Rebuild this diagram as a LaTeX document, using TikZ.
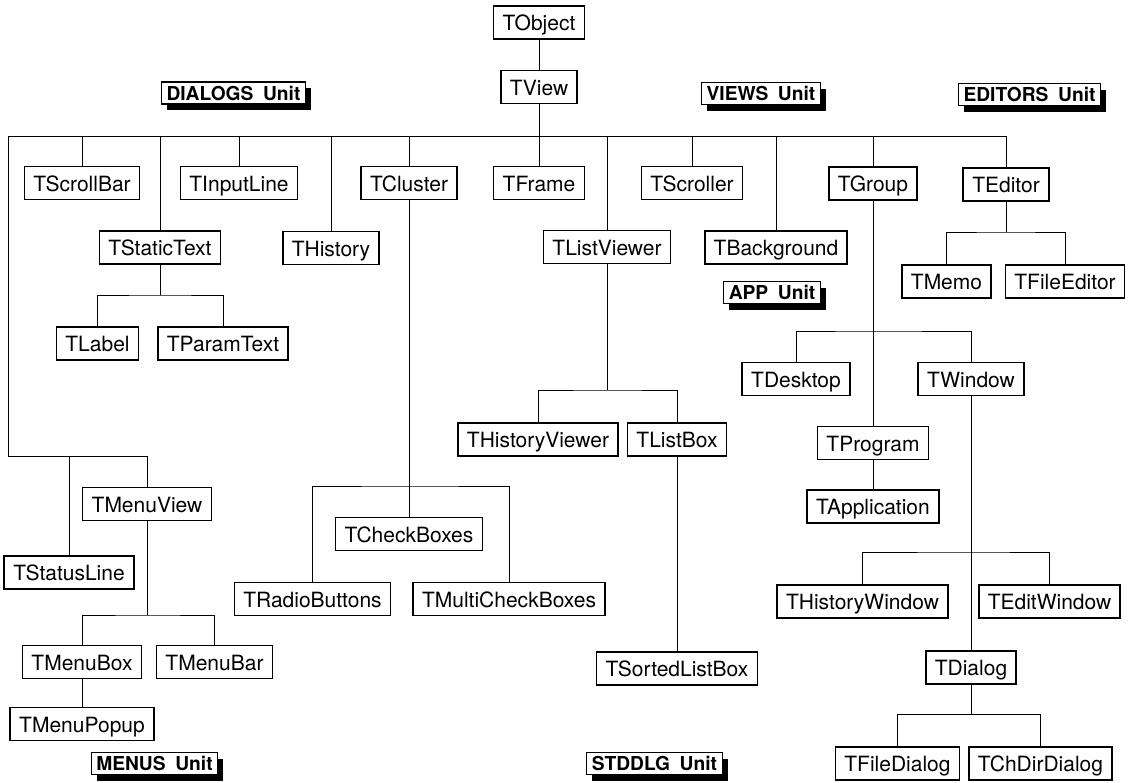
\documentclass[tikz,border=0pt]{standalone}
\usepackage{fontspec}
\setmainfont{TeX Gyre Heros}
\usetikzlibrary{shadows}

\begin{document}
\begin{tikzpicture}[x=0.5pt, y=-0.5pt,
  cls/.style={draw=black, line width=0.8pt, fill=white, inner xsep=4.5pt, inner ysep=0pt, minimum height=16.5pt, text height=9.1pt, text depth=0.9pt, font=\fontsize{10.5}{12}\selectfont},
  unit/.style={draw=black, line width=0.6pt, fill=white, inner xsep=2.5pt, inner ysep=0pt, minimum height=11pt, text height=7pt, text depth=0pt, font=\fontsize{9.6}{10}\selectfont\bfseries, drop shadow={shadow xshift=2.75pt, shadow yshift=-3pt, opacity=1, fill=black}},
  every path/.style={line width=0.45pt}]
\useasboundingbox (0,0) rectangle (1137,783);

% classes
\node[cls] (TObject) at (539,22.5) {TObject};
\node[cls] (TView) at (539,87) {TView};
\node[cls] (TScrollBar) at (82,183) {TScrollBar};
\node[cls] (TInputLine) at (239,183) {TInputLine};
\node[cls] (TCluster) at (409,183) {TCluster};
\node[cls] (TFrame) at (539,183) {TFrame};
\node[cls] (TScroller) at (692,183) {TScroller};
\node[cls] (TGroup) at (873,183.5) {TGroup};
\node[cls] (TEditor) at (1006,184.5) {TEditor};
\node[cls] (TStaticText) at (160,247.5) {TStaticText};
\node[cls] (THistory) at (331,248) {THistory};
\node[cls] (TListViewer) at (607,247) {TListViewer};
\node[cls] (TBackground) at (776,247.5) {TBackground};
\node[cls] (TLabel) at (97.5,343.5) {TLabel};
\node[cls] (TParamText) at (223,343.5) {TParamText};
\node[cls] (TMemo) at (946.5,281.5) {TMemo};
\node[cls] (TFileEditor) at (1065,281.5) {TFileEditor};
\node[cls] (TDesktop) at (796,379) {TDesktop};
\node[cls] (TWindow) at (971,379) {TWindow};
\node[cls] (THistoryViewer) at (538,439.5) {THistoryViewer};
\node[cls] (TListBox) at (677,439.5) {TListBox};
\node[cls] (TProgram) at (873,443) {TProgram};
\node[cls] (TApplication) at (873,506.5) {TApplication};
\node[cls] (TMenuView) at (147,504) {TMenuView};
\node[cls] (TCheckBoxes) at (409,534) {TCheckBoxes};
\node[cls] (TStatusLine) at (69,572.5) {TStatusLine};
\node[cls] (TRadioButtons) at (312.5,599) {TRadioButtons};
\node[cls] (TMultiCheckBoxes) at (509,599) {TMultiCheckBoxes};
\node[cls] (THistoryWindow) at (862.5,601.5) {THistoryWindow};
\node[cls] (TEditWindow) at (1049.5,601.5) {TEditWindow};
\node[cls] (TMenuBox) at (82,662) {TMenuBox};
\node[cls] (TMenuBar) at (214.5,662) {TMenuBar};
\node[cls] (TSortedListBox) at (677,668.5) {TSortedListBox};
\node[cls] (TDialog) at (971,667.5) {TDialog};
\node[cls] (TMenuPopup) at (82,724) {TMenuPopup};
\node[cls] (TFileDialog) at (897.5,763.5) {TFileDialog};
\node[cls] (TChDirDialog) at (1040.5,763.5) {TChDirDialog};

% unit labels
\node[unit] (dialogs) at (233.5,93) {DIALOGS\enspace Unit};
\node[unit] (views) at (761,93.5) {VIEWS\enspace Unit};
\node[unit] (editors) at (1029.5,94.5) {EDITORS\enspace Unit};
\node[unit] (app) at (772,292.5) {APP\enspace Unit};
\node[unit] (stddlg) at (654.5,763.5) {STDDLG\enspace Unit};
\node[unit] (menus) at (154.5,763.5) {MENUS\enspace Unit};

% main bus under TView
\coordinate (busL) at (8,136);
\coordinate (busR) at (TEditor |- busL);
\draw (TObject) -- (TView);
\draw (TView) -- (TView |- busL);
\draw (busL) -- (busR);
\foreach \c in {TScrollBar,TStaticText,TInputLine,THistory,TCluster,TFrame,TListViewer,TScroller,TBackground,TGroup,TEditor}
  \draw (\c) -- (\c |- busL);

% menus branch
\coordinate (menuL) at (8,456);
\draw (busL) -- (menuL) -| (TMenuView);
\draw (TStatusLine) -- (TStatusLine |- menuL);
\coordinate (mvJ) at (TMenuView |- 0,615);
\draw (TMenuView) -- (mvJ);
\draw (TMenuBox) |- (mvJ) -| (TMenuBar);
\draw (TMenuBox) -- (TMenuPopup);

% sub trees
\coordinate (stJ) at (TStaticText |- 0,295);
\draw (TStaticText) -- (stJ);
\draw (TLabel) |- (stJ) -| (TParamText);

\coordinate (clJ) at (TCluster |- 0,486);
\draw (TCluster) -- (TCheckBoxes);
\draw (TRadioButtons) |- (clJ) -| (TMultiCheckBoxes);

\coordinate (lvJ) at (TListViewer |- 0,390);
\draw (TListViewer) -- (lvJ);
\draw (THistoryViewer) |- (lvJ) -| (TListBox);
\draw (TListBox) -- (TSortedListBox);

\coordinate (edJ) at (TEditor |- 0,232);
\draw (TEditor) -- (edJ);
\draw (TMemo) |- (edJ) -| (TFileEditor);

\coordinate (grJ) at (TGroup |- 0,331);
\draw (TGroup) -- (TProgram);
\draw (TDesktop) |- (grJ) -| (TWindow);
\draw (TProgram) -- (TApplication);

\coordinate (wnJ) at (TWindow |- 0,552);
\draw (TWindow) -- (TDialog);
\draw (THistoryWindow) |- (wnJ) -| (TEditWindow);

\coordinate (dlJ) at (TDialog |- 0,714);
\draw (TDialog) -- (dlJ);
\draw (TFileDialog) |- (dlJ) -| (TChDirDialog);
\end{tikzpicture}
\end{document}
